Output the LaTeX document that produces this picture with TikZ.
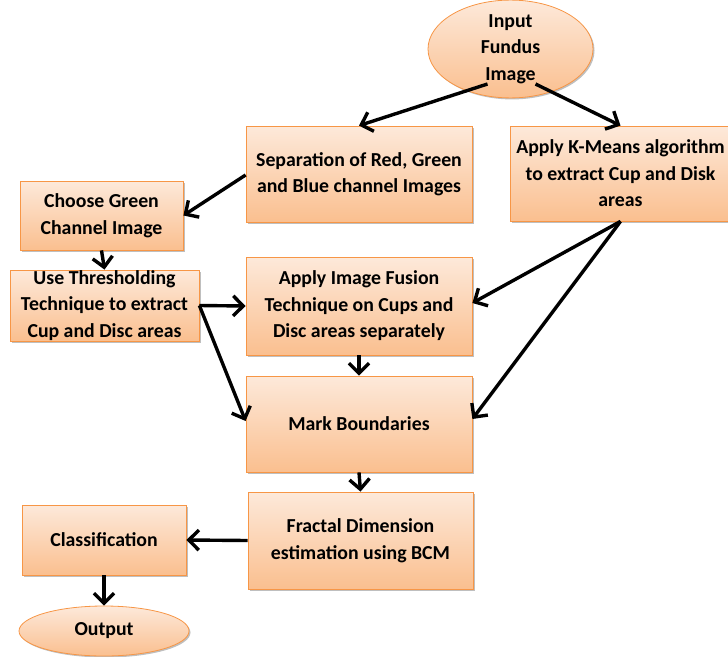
\documentclass[tikz,border=0pt]{standalone}
\usepackage{fontspec}
\setmainfont{Carlito}
\usetikzlibrary{arrows.meta,shapes.geometric,shadows,calc}
\definecolor{boxtop}{HTML}{FDE9DA}
\definecolor{boxbot}{HTML}{FABF8F}
\definecolor{boxline}{HTML}{F79646}
\begin{document}
\begin{tikzpicture}[x=1pt,y=-1pt,
  base/.style={draw=boxline, line width=0.8pt, top color=boxtop, bottom color=boxbot,
    font=\fontsize{19.8}{26.5}\selectfont\bfseries, align=center, inner sep=0pt,
    drop shadow={shadow xshift=1.5pt, shadow yshift=-1.5pt, opacity=0.25, fill=black}},
  box/.style={base, rectangle},
  oval/.style={base, ellipse},
  arr/.style={draw=black, line width=3.4pt, -{Straight Barb[length=10pt,width=20pt,line width=3.4pt]}}
]
\useasboundingbox (0,0) rectangle (728,656);

\node[oval, minimum width=165pt, minimum height=72pt] (inp) at (510.5,49) {Input\\Fundus\\Image};
\node[box, minimum width=226pt, minimum height=96pt] (sep) at (359,174) {Separation of Red, Green\\and Blue channel Images};
\node[box, minimum width=221pt, minimum height=95pt] (km) at (620.5,173.5) {Apply K-Means algorithm\\to extract Cup and Disk\\areas};
\node[box, minimum width=163pt, minimum height=69pt] (grn) at (101.5,215.5) {Choose Green\\Channel Image};
\node[box, minimum width=189pt, minimum height=71pt] (thr) at (104.5,305.5) {Use Thresholding\\Technique to extract\\Cup and Disc areas};
\node[box, minimum width=226pt, minimum height=98pt] (fus) at (359,306) {Apply Image Fusion\\Technique on Cups and\\Disc areas separately};
\node[box, minimum width=226pt, minimum height=96pt] (mark) at (359,424) {Mark Boundaries};
\node[box, minimum width=225pt, minimum height=97pt] (frac) at (360.5,540.5) {Fractal Dimension\\estimation using BCM};
\node[box, minimum width=164pt, minimum height=70pt] (cls) at (104,540) {Classification};
\node[oval, minimum width=170pt, minimum height=50pt] (out) at (104,631) {Output};

\draw[arr] ($(inp.center)+(-23,35)$) -- (sep.north);
\draw[arr] ($(inp.center)+(25,35)$) -- (km.north);
\draw[arr] ($(sep.west)+(0,1)$) -- (grn.east);
\draw[arr] (grn.south) -- (thr.north);
\draw[arr] (thr.east) -- (fus.west);
\draw[arr] (thr.east) -- ($(mark.west)+(0,-3)$);
\draw[arr] (km.south) -- ($(fus.east)+(0,-3)$);
\draw[arr] (km.south) -- ($(mark.east)+(0,-5)$);
\draw[arr] (fus.south) -- (mark.north);
\draw[arr] (mark.south) -- (frac.north);
\draw[arr] (frac.west) -- (cls.east);
\draw[arr] (cls.south) -- (out.north);
\end{tikzpicture}
\end{document}
